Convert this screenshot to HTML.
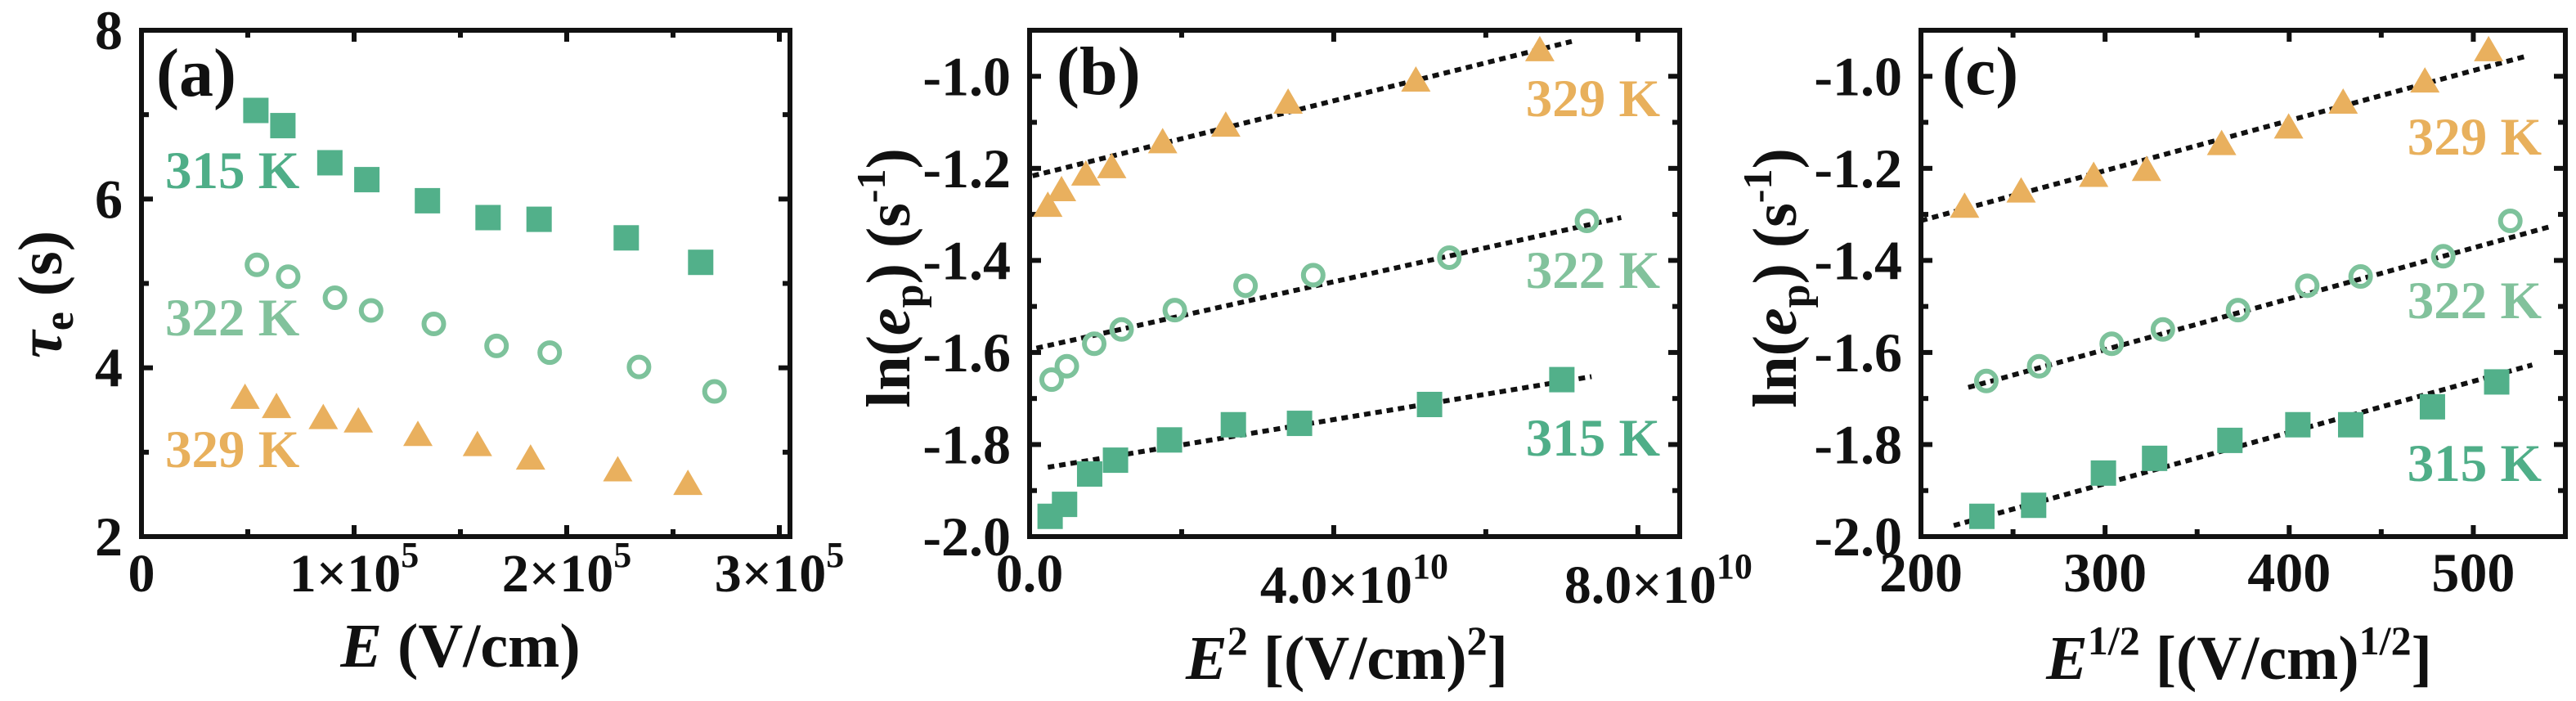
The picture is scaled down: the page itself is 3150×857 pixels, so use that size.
<!DOCTYPE html>
<html><head><meta charset="utf-8">
<style>
html,body{margin:0;padding:0;background:#fff;}
svg{display:block;}
svg text{font-family:"Liberation Serif","Times New Roman",Times,"Noto Serif CJK SC","DejaVu Serif","FreeSerif",serif !important;font-weight:bold;}
</style></head>
<body>
<svg id="fig" width="3150" height="857" viewBox="0 0 3150 857" xmlns="http://www.w3.org/2000/svg"></svg>
<script>
// ---------- Panel (a) data: tau_e vs E ----------
const aE315 = [53.8e3, 66.5e3, 88.6e3, 106e3, 134.5e3, 163e3, 187e3, 228e3, 263e3];
const aT315 = [7.05, 6.87, 6.43, 6.23, 5.98, 5.78, 5.76, 5.54, 5.25];
const aE322 = [54.3e3, 69e3, 91e3, 108e3, 137.5e3, 167e3, 192e3, 234e3, 269.5e3];
const aT322 = [5.22, 5.08, 4.83, 4.68, 4.52, 4.26, 4.18, 4.01, 3.72];
const aE329 = [48.7e3, 63.5e3, 85.5e3, 102e3, 130e3, 158e3, 183e3, 224e3, 257e3];
const aT329 = [3.63, 3.52, 3.39, 3.35, 3.19, 3.07, 2.91, 2.77, 2.61];
// ---------- Panel (b) data: ln(ep) vs E^2 (units 1e10) ----------
const bX329 = [0.24, 0.42, 0.74, 1.08, 1.75, 2.58, 3.40, 5.08, 6.71];
const bY329 = [-1.284, -1.25, -1.216, -1.2, -1.146, -1.11, -1.06, -1.012, -0.946];
const bX322 = [0.29, 0.49, 0.85, 1.21, 1.91, 2.84, 3.73, 5.52, 7.33];
const bY322 = [-1.659, -1.63, -1.581, -1.55, -1.508, -1.455, -1.432, -1.394, -1.314];
const bX315 = [0.27, 0.46, 0.79, 1.13, 1.84, 2.68, 3.55, 5.26, 7.0];
const bY315 = [-1.956, -1.93, -1.864, -1.834, -1.79, -1.757, -1.754, -1.713, -1.659];
const bFitSlope = [0.0412, 0.0369, 0.02755];
const bFitIntercept = [-1.218, -1.594, -1.856];
const bFitStart = [0.04, 0.09, 0.24];
const bFitEnd = [7.13, 7.78, 7.39];
// ---------- Panel (c) data: ln(ep) vs E^1/2 ----------
const cX329 = [223.7, 254.4, 293.8, 322.5, 363.3, 399.7, 429.3, 473.7, 508.3];
const cY329 = [-1.286, -1.253, -1.219, -1.206, -1.15, -1.114, -1.06, -1.014, -0.946];
const cX322 = [235.5, 264.2, 303.6, 331.4, 372.2, 409.8, 438.8, 483.7, 520.1];
const cY322 = [-1.662, -1.63, -1.581, -1.55, -1.508, -1.455, -1.435, -1.391, -1.314];
const cX315 = [233.1, 261.2, 299.1, 326.9, 367.8, 404.7, 433.4, 477.8, 512.7];
const cY315 = [-1.956, -1.932, -1.862, -1.83, -1.791, -1.757, -1.757, -1.718, -1.664];
const cFitSlope = [0.001087, 0.0011055, 0.0011107];
const cFitIntercept = [-1.531, -1.9255, -2.218];
const cFitStart = [200, 225.7, 217.8];
const cFitEnd = [527.5, 542.3, 532];
// ---------- tick labels ----------
const aYTicks = [2, 4, 6, 8];
const aXTickMain = ["0", "1×10", "2×10", "3×10"];
const aXTickVals = [0, 1e5, 2e5, 3e5];
const bXTickMain = ["0.0", "4.0×10", "8.0×10"];
const bXTickVals = [0, 4, 8];
const lnYTicks = [-2.0, -1.8, -1.6, -1.4, -1.2, -1.0];
const cXTickVals = [200, 300, 400, 500];

const NS = "http://www.w3.org/2000/svg";
const svg = document.getElementById("fig");
const C_SQ = "#52b08a", C_CI = "#7dc29b", C_TR = "#e9b05e";

function mk(tag, attrs, parent) {
  const e = document.createElementNS(NS, tag);
  for (const k in attrs) e.setAttribute(k, attrs[k]);
  (parent || svg).appendChild(e);
  return e;
}

function makeAxis(L, R, T, B, x0, x1, y0, y1) {
  return {
    L, R, T, B,
    sx: v => L + (v - x0) / (x1 - x0) * (R - L),
    sy: v => B - (v - y0) / (y1 - y0) * (B - T)
  };
}

function frame(ax, g, xt, yt) {
  xt.forEach(t => {
    const x = ax.sx(t.v), len = t.major ? 14 : 9;
    const a = mk("line", {x1: x, x2: x, y1: ax.B, y2: ax.B - len, stroke: "#111", "stroke-width": 6}, g);
    
    
    const b = mk("line", {x1: x, x2: x, y1: ax.T, y2: ax.T + len, stroke: "#111", "stroke-width": 6}, g);
    
    
  });
  yt.forEach(t => {
    const y = ax.sy(t.v), len = t.major ? 14 : 9;
    const a = mk("line", {x1: ax.L, x2: ax.L + len, y1: y, y2: y, stroke: "#111", "stroke-width": 6}, g);
    
    
    const b = mk("line", {x1: ax.R, x2: ax.R - len, y1: y, y2: y, stroke: "#111", "stroke-width": 6}, g);
    
    
  });
  const r = mk("rect", {x: ax.L, y: ax.T, width: ax.R - ax.L, height: ax.B - ax.T, fill: "none", stroke: "#111", "stroke-width": 6}, g);
  
  
}

function squares(ax, xs, ys, g) {
  xs.forEach((v, i) => {
    const s = 31;
    const e = mk("rect", {x: ax.sx(v) - s / 2, y: ax.sy(ys[i]) - s / 2, width: s, height: s, fill: C_SQ}, g);
    
    
  });
}
function circles(ax, xs, ys, g) {
  xs.forEach((v, i) => {
    const e = mk("circle", {cx: ax.sx(v), cy: ax.sy(ys[i]), r: 12, fill: "none", stroke: C_CI, "stroke-width": 6}, g);
    
    
  });
}
function triangles(ax, xs, ys, g) {
  xs.forEach((v, i) => {
    const x = ax.sx(v), y = ax.sy(ys[i]);
    const e = mk("polygon", {points: `${x},${y - 19} ${x - 18},${y + 12} ${x + 18},${y + 12}`, fill: C_TR}, g);
    
    
  });
}
function fits(ax, slopes, ints, starts, ends, g) {
  slopes.forEach((m, i) => {
    const e = mk("line", {
      x1: ax.sx(starts[i]), y1: ax.sy(m * starts[i] + ints[i]),
      x2: ax.sx(ends[i]), y2: ax.sy(m * ends[i] + ints[i]),
      stroke: "#111", "stroke-width": 6, "stroke-dasharray": "8 6"
    }, g);
    
    
  });
}
function txt(x, y, s, size, anchor, fill, g, name) {
  const e = mk("text", {x, y, "font-size": size, "text-anchor": anchor || "start", fill: fill || "#111"}, g);
  e.textContent = s;
  
  
  return e;
}
function sciLabel(x, y, main, exp, g) {
  const e = mk("text", {x, y, "font-size": 66, "text-anchor": "middle", fill: "#111"}, g);
  
  
  const t1 = mk("tspan", {}, e); t1.textContent = main;
  if (exp) {
    const t2 = mk("tspan", {"font-size": 44, dy: -30}, e); t2.textContent = exp;
  }
}
function yLabels(ax, vals, fmt, rx, g) {
  vals.forEach(v => txt(rx, ax.sy(v) + 23, fmt(v), 68, "end", "#111", g, "y-tick-label"));
}

// ================= Panel (a) =================
const ga = mk("g", {});  
const axA = makeAxis(173, 966, 37, 656, 0, 3.05e5, 2, 8);
const aXt = []; for (let k = 0; k <= 6; k++) aXt.push({v: k * 0.5e5, major: k % 2 === 0});
const aYt = []; for (let k = 2; k <= 8; k++) aYt.push({v: k, major: k % 2 === 0});
frame(axA, ga, aXt, aYt);
squares(axA, aE315, aT315, ga);
circles(axA, aE322, aT322, ga);
triangles(axA, aE329, aT329, ga);
yLabels(axA, aYTicks, v => String(v), 150, ga);
aXTickVals.forEach((v, i) => sciLabel(axA.sx(v), 723, aXTickMain[i], i ? "5" : "", ga));
txt(191, 117, "(a)", 84, "start", "#111", ga, "panel-label-a");
txt(202, 230, "315 K", 65, "start", "#4fae88", ga, "label-315k");
txt(202, 410, "322 K", 65, "start", "#82c29c", ga, "label-322k");
txt(202, 571, "329 K", 65, "start", "#e8b05c", ga, "label-329k");
{
  const e = mk("text", {x: 563, y: 815, "font-size": 76, "text-anchor": "middle", fill: "#111"}, ga);
   
  const i1 = mk("tspan", {"font-style": "italic"}, e); i1.textContent = "E";
  const i2 = mk("tspan", {}, e); i2.textContent = " (V/cm)";
  const y = mk("text", {x: 0, y: 0, "font-size": 76, "text-anchor": "middle", fill: "#111", transform: "translate(75,360) rotate(-90)"}, ga);
   
  const a1 = mk("tspan", {"font-style": "italic"}, y); a1.textContent = "τ";
  const a2 = mk("tspan", {"font-size": 52, dy: 14}, y); a2.textContent = "e";
  const a3 = mk("tspan", {dy: -14}, y); a3.textContent = " (s)";
}

// ================= Panel (b) =================
const gb = mk("g", {});  
const axB = makeAxis(1259, 2054, 37, 656, 0, 8.55, -2.0, -0.9);
const bXt = []; for (let k = 0; k <= 8; k += 2) bXt.push({v: k, major: k % 4 === 0});
const lnYt = []; for (let k = 0; k <= 10; k++) lnYt.push({v: -2.0 + k * 0.1, major: k % 2 === 0});
frame(axB, gb, bXt, lnYt);
fits(axB, bFitSlope, bFitIntercept, bFitStart, bFitEnd, gb);
triangles(axB, bX329, bY329, gb);
circles(axB, bX322, bY322, gb);
squares(axB, bX315, bY315, gb);
yLabels(axB, lnYTicks, v => v.toFixed(1), 1236, gb);
bXTickVals.forEach((v, i) => sciLabel(axB.sx(v) + (i ? 25 : 0), i ? 737 : 723, bXTickMain[i], i ? "10" : "", gb));
txt(1292, 115, "(b)", 84, "start", "#111", gb, "panel-label-b");
txt(2030, 142, "329 K", 65, "end", "#e8b05c", gb, "label-329k");
txt(2030, 352, "322 K", 65, "end", "#82c29c", gb, "label-322k");
txt(2030, 557, "315 K", 65, "end", "#4fae88", gb, "label-315k");
{
  const e = mk("text", {x: 1647, y: 830, "font-size": 76, "text-anchor": "middle", fill: "#111"}, gb);
   
  const i1 = mk("tspan", {"font-style": "italic"}, e); i1.textContent = "E";
  const i2 = mk("tspan", {"font-size": 50, dy: -30}, e); i2.textContent = "2";
  const i3 = mk("tspan", {dy: 30}, e); i3.textContent = " [(V/cm)";
  const i4 = mk("tspan", {"font-size": 50, dy: -30}, e); i4.textContent = "2";
  const i5 = mk("tspan", {dy: 30}, e); i5.textContent = "]";
}
function lnTitle(cx, cy, g, name) {
  const y = mk("text", {x: 0, y: 0, "font-size": 76, "text-anchor": "middle", fill: "#111", transform: `translate(${cx},${cy}) rotate(-90)`}, g);
   
  const p = [["ln(", {}], ["e", {"font-style": "italic"}], ["p", {"font-size": 52, dy: 16}], [") (s", {dy: -16}], ["-1", {"font-size": 50, dy: -30}], [")", {dy: 30}]];
  p.forEach(q => { const t = mk("tspan", q[1], y); t.textContent = q[0]; });
}
lnTitle(1112, 340, gb, "y-axis-title-b");

// ================= Panel (c) =================
const gc = mk("g", {});  
const axC = makeAxis(2349, 3137, 37, 656, 200, 550, -2.0, -0.9);
const cXt = []; for (let v = 200; v <= 550; v += 50) cXt.push({v, major: v % 100 === 0});
frame(axC, gc, cXt, lnYt);
fits(axC, cFitSlope, cFitIntercept, cFitStart, cFitEnd, gc);
triangles(axC, cX329, cY329, gc);
circles(axC, cX322, cY322, gc);
squares(axC, cX315, cY315, gc);
yLabels(axC, lnYTicks, v => v.toFixed(1), 2326, gc);
cXTickVals.forEach(v => txt(axC.sx(v), 723, String(v), 68, "middle", "#111", gc, "x-tick-label"));
txt(2375, 115, "(c)", 84, "start", "#111", gc, "panel-label-c");
txt(3108, 189, "329 K", 65, "end", "#e8b05c", gc, "label-329k");
txt(3108, 389, "322 K", 65, "end", "#82c29c", gc, "label-322k");
txt(3108, 588, "315 K", 65, "end", "#4fae88", gc, "label-315k");
{
  const e = mk("text", {x: 2738, y: 830, "font-size": 76, "text-anchor": "middle", fill: "#111"}, gc);
   
  const i1 = mk("tspan", {"font-style": "italic"}, e); i1.textContent = "E";
  const i2 = mk("tspan", {"font-size": 50, dy: -30}, e); i2.textContent = "1/2";
  const i3 = mk("tspan", {dy: 30}, e); i3.textContent = " [(V/cm)";
  const i4 = mk("tspan", {"font-size": 50, dy: -30}, e); i4.textContent = "1/2";
  const i5 = mk("tspan", {dy: 30}, e); i5.textContent = "]";
}
lnTitle(2196, 340, gc, "y-axis-title-c");
</script>
</body></html>
